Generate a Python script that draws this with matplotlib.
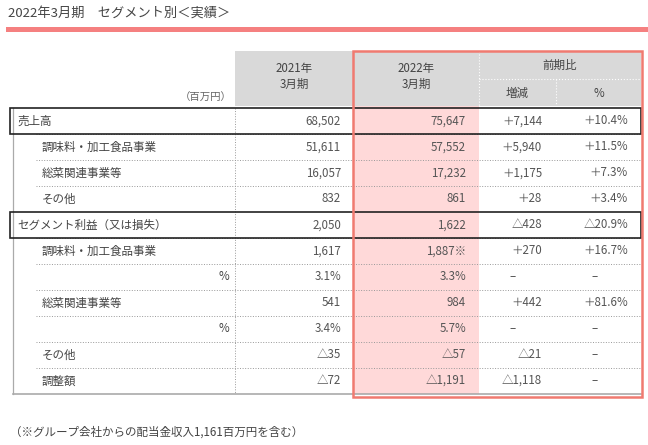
import matplotlib
matplotlib.use("Agg")
import matplotlib.pyplot as plt
from matplotlib.patches import Rectangle

plt.rcParams["font.family"] = ["Noto Sans CJK JP", "DejaVu Sans"]

# table content
labels = ["売上高", "調味料・加工食品事業", "総菜関連事業等", "その他",
          "セグメント利益（又は損失）", "調味料・加工食品事業", "%",
          "総菜関連事業等", "%", "その他", "調整額"]
levels = [0, 1, 1, 1, 0, 1, 2, 1, 2, 1, 1]
fy2021 = ["68,502", "51,611", "16,057", "832", "2,050", "1,617", "3.1%",
          "541", "3.4%", "△35", "△72"]
fy2022 = ["75,647", "57,552", "17,232", "861", "1,622", "1,887※", "3.3%",
          "984", "5.7%", "△57", "△1,191"]
change = ["＋7,144", "＋5,940", "＋1,175", "＋28", "△428", "＋270", "–",
          "＋442", "–", "△21", "△1,118"]
pct = ["＋10.4%", "＋11.5%", "＋7.3%", "＋3.4%", "△20.9%", "＋16.7%", "–",
       "＋81.6%", "–", "–", "–"]

title = "2022年3月期　セグメント別＜実績＞"
unit = "（百万円）"
footnote = "（※グループ会社からの配当金収入1,161百万円を含む）"

TXT = "#444444"
NUM = "#555555"
GRAY = "#d9d9d9"
PINK = "#ffd9d9"
RED = "#f07a70"
FS = 8.3

fig = plt.figure(figsize=(6.48, 4.45), dpi=100)
ax = fig.add_axes([0, 0, 1, 1])
ax.set_xlim(0, 648)
ax.set_ylim(445, 0)
ax.axis("off")

# title + red band
ax.text(8, 13, title, fontsize=9.5, color=TXT, va="center", ha="left")
ax.add_patch(Rectangle((6, 27), 642, 5, color="#f58080", lw=0))

# column edges
cols = [235, 353, 479, 556, 641]
head_top, head_mid, head_bot = 51, 79, 106
row_top, row_h = 108, 26
n = len(labels)
body_bot = row_top + n * row_h

# header cells
ax.add_patch(Rectangle((cols[0], head_top), cols[-1] - cols[0], head_bot - head_top,
                       color=GRAY, lw=0))
ax.plot([cols[2], cols[4]], [head_mid, head_mid], color="white", lw=0.8, ls=":")
ax.plot([cols[3], cols[3]], [head_mid, head_bot], color="white", lw=0.8, ls=":")
ax.plot([cols[2], cols[2]], [head_top, head_bot], color="white", lw=0.8, ls=":")
hy = (head_top + head_bot) / 2
for c0, c1, t in [(cols[0], cols[1], "2021年\n3月期"), (cols[1], cols[2], "2022年\n3月期")]:
    ax.text((c0 + c1) / 2, hy - 2, t, fontsize=FS, color=TXT, ha="center",
            va="center", linespacing=1.3)
ax.text((cols[2] + cols[4]) / 2, (head_top + head_mid) / 2, "前期比", fontsize=FS,
        color=TXT, ha="center", va="center")
ax.text((cols[2] + cols[3]) / 2, (head_mid + head_bot) / 2 + 1, "増減", fontsize=FS,
        color=TXT, ha="center", va="center")
ax.text((cols[3] + cols[4]) / 2, (head_mid + head_bot) / 2 + 1, "%", fontsize=FS,
        color=TXT, ha="center", va="center")
ax.text(232, 98, unit, fontsize=7.5, color="#666666", ha="right", va="center")

# pink column
ax.add_patch(Rectangle((cols[1], head_bot), cols[2] - cols[1], body_bot - head_bot,
                       color=PINK, lw=0))

# body lines
ax.plot([13, 13], [row_top, body_bot], color="#aaaaaa", lw=0.9)
ax.plot([13, cols[-1]], [body_bot, body_bot], color="#aaaaaa", lw=1.2)
ax.plot([cols[0], cols[0]], [row_top, body_bot], color="#999999", lw=0.7, ls=":")

value_x = [341, 466, 542, 628]
dash_x = [None, None, 513, 595]
for i, lab in enumerate(labels):
    top = row_top + i * row_h
    yc = top + row_h / 2
    if levels[i] == 0:
        ax.add_patch(Rectangle((10, top), cols[-1] - 10, row_h, fill=False,
                               edgecolor="#222222", lw=1.2, zorder=3))
        ax.text(17, yc, lab, fontsize=FS, color=TXT, ha="left", va="center")
    elif levels[i] == 1:
        ax.text(42, yc, lab, fontsize=FS, color=TXT, ha="left", va="center")
    else:
        ax.text(229, yc, lab, fontsize=FS, color=TXT, ha="right", va="center")
    if i + 1 < n and levels[i + 1] != 0:
        ax.plot([36, cols[-1]], [top + row_h, top + row_h], color="#999999",
                lw=0.7, ls=":")
    for x, dx, vals in zip(value_x, dash_x, [fy2021, fy2022, change, pct]):
        if vals[i] == "–":
            ax.text(dx, yc, vals[i], fontsize=FS, color=NUM, ha="center", va="center")
        else:
            ax.text(x, yc, vals[i], fontsize=FS, color=NUM, ha="right", va="center")

# red outline around current year and comparison
ax.add_patch(Rectangle((cols[1], head_top), cols[-1] - cols[1] + 1,
                       body_bot + 3 - head_top, fill=False, edgecolor=RED,
                       lw=1.8, zorder=4))

ax.text(10, 432, footnote, fontsize=FS, color=TXT, ha="left", va="center")

fig.savefig("out.png", dpi=100)
